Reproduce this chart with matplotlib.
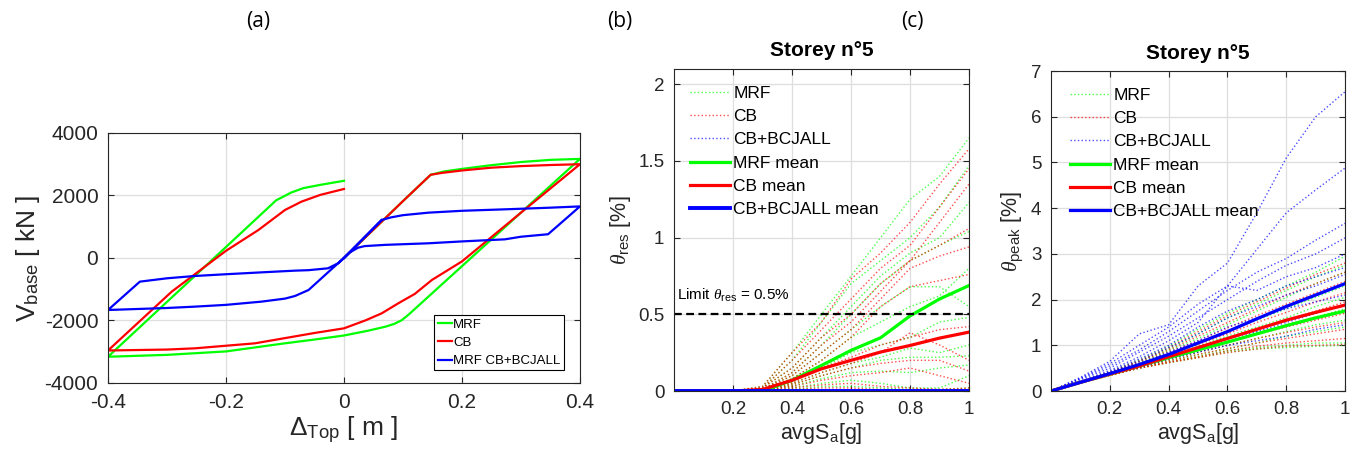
import matplotlib
matplotlib.use("Agg")
import matplotlib.pyplot as plt

# fonts: MATLAB-like sans, serif italic theta
plt.rcParams['font.family'] = ['Liberation Sans', 'DejaVu Sans']
plt.rcParams['mathtext.fontset'] = 'custom'
plt.rcParams['mathtext.rm'] = 'Liberation Sans'
plt.rcParams['mathtext.it'] = 'Liberation Serif:italic'
plt.rcParams['mathtext.bf'] = 'Liberation Sans:bold'

DARK = '#262626'
GRIDC = '#dedede'

# ---------------- (a) pushover cycles ----------------
mrf_x = [0, 0.05, 0.10, 0.147, 0.17, 0.2, 0.25, 0.3, 0.35, 0.4,
         0.3, 0.2, 0.11, 0.098, 0.085, 0.07, 0.04, 0.0, -0.05, -0.1, -0.2, -0.3, -0.4,
         -0.3, -0.2, -0.115, -0.1, -0.09, -0.069, -0.04, 0.0]
mrf_y = [0, 910, 1820, 2663, 2770, 2850, 2970, 3070, 3140, 3170,
         1452, -262, -1805, -1990, -2110, -2200, -2330, -2480, -2610, -2730, -2990, -3100, -3160,
         -1404, 352, 1845, 1990, 2090, 2235, 2340, 2470]

cb_x = [0, 0.05, 0.10, 0.147, 0.165, 0.2, 0.25, 0.3, 0.35, 0.4,
        0.3, 0.2, 0.149, 0.12, 0.092, 0.064, 0.036, 0.0, -0.05, -0.151, -0.253, -0.3, -0.4,
        -0.292, -0.2, -0.145, -0.1, -0.072, -0.04, 0.0]
cb_y = [0, 910, 1820, 2663, 2720, 2800, 2890, 2940, 2975, 3000,
        1450, -110, -704, -1150, -1451, -1771, -2000, -2251, -2400, -2731, -2891, -2930, -2960,
        -1077, 230, 896, 1536, 1803, 2020, 2208]

bcj_x = [0, 0.03, 0.064, 0.08, 0.1, 0.143, 0.2, 0.273, 0.35, 0.4,
         0.346, 0.3, 0.273, 0.2, 0.143, 0.07, 0.035, 0.024, 0.01, 0.0,
         -0.01, -0.027, -0.06, -0.083, -0.14, -0.2, -0.253, -0.3, -0.346, -0.4,
         -0.3, -0.253, -0.2, -0.14, -0.1, -0.083, -0.06, -0.03, 0.0, 0.03, 0.064]
bcj_y = [0, 570, 1216, 1300, 1370, 1450, 1510, 1557, 1610, 1650,
         760, 680, 597, 530, 470, 420, 380, 330, 180, 0,
         -170, -330, -390, -405, -460, -520, -576, -650, -757, -1664,
         -1600, -1557, -1500, -1397, -1300, -1216, -1024, -510, 0, 570, 1216]

# ---------------- (b) residual drift, storey 5 ----------------
sa = [0, 0.1, 0.2, 0.3, 0.4, 0.5, 0.6, 0.7, 0.8, 0.9, 1.0]

res_mrf = [
    [0, 0, 0, 0.03, 0.25, 0.50, 0.75, 1.00, 1.25, 1.40, 1.65],
    [0, 0, 0, 0.02, 0.20, 0.45, 0.70, 0.85, 1.00, 1.20, 1.47],
    [0, 0, 0, 0.02, 0.15, 0.35, 0.55, 0.75, 0.90, 1.00, 1.23],
    [0, 0, 0, 0.01, 0.12, 0.30, 0.50, 0.70, 0.85, 0.95, 1.04],
    [0, 0, 0, 0.01, 0.10, 0.25, 0.40, 0.55, 0.68, 0.68, 0.55],
    [0, 0, 0, 0.01, 0.08, 0.20, 0.35, 0.45, 0.55, 0.62, 0.80],
    [0, 0, 0, 0.00, 0.06, 0.15, 0.25, 0.30, 0.35, 0.45, 0.48],
    [0, 0, 0, 0.00, 0.05, 0.12, 0.18, 0.22, 0.28, 0.25, 0.30],
    [0, 0, 0, 0.00, 0.04, 0.10, 0.15, 0.20, 0.22, 0.22, 0.23],
    [0, 0, 0, 0.00, 0.03, 0.08, 0.12, 0.13, 0.12, 0.15, 0.17],
    [0, 0, 0, 0.00, 0.02, 0.05, 0.07, 0.05, 0.02, 0.02, 0.10],
    [0, 0, 0, 0.00, 0.01, 0.03, 0.03, 0.02, 0.01, 0.01, 0.02],
]
res_cb = [
    [0, 0, 0, 0.03, 0.25, 0.45, 0.73, 0.90, 1.10, 1.35, 1.58],
    [0, 0, 0, 0.02, 0.20, 0.40, 0.60, 0.80, 0.95, 1.20, 1.45],
    [0, 0, 0, 0.02, 0.15, 0.35, 0.50, 0.70, 0.85, 1.10, 1.35],
    [0, 0, 0, 0.01, 0.12, 0.30, 0.45, 0.65, 0.85, 0.95, 1.06],
    [0, 0, 0, 0.01, 0.10, 0.25, 0.40, 0.60, 0.80, 0.88, 0.94],
    [0, 0, 0, 0.01, 0.08, 0.20, 0.35, 0.55, 0.68, 0.72, 0.76],
    [0, 0, 0, 0.00, 0.06, 0.15, 0.22, 0.30, 0.35, 0.40, 0.42],
    [0, 0, 0, 0.00, 0.05, 0.12, 0.18, 0.25, 0.38, 0.30, 0.20],
    [0, 0, 0, 0.00, 0.04, 0.10, 0.15, 0.18, 0.20, 0.20, 0.13],
    [0, 0, 0, 0.00, 0.03, 0.07, 0.10, 0.12, 0.15, 0.10, 0.05],
    [0, 0, 0, 0.00, 0.02, 0.04, 0.05, 0.03, 0.02, 0.01, 0.02],
    [0, 0, 0, 0.00, 0.01, 0.02, 0.02, 0.01, 0.01, 0.01, 0.01],
]
res_bcj = [
    [0, 0, 0, 0, 0, 0, 0, 0, 0, 0, 0],
]
res_mrf_mean = [0, 0, 0, 0.00, 0.07, 0.167, 0.265, 0.347, 0.49, 0.60, 0.688]
res_cb_mean = [0, 0, 0, 0.01, 0.07, 0.145, 0.20, 0.254, 0.297, 0.345, 0.384]
res_bcj_mean = [0, 0, 0, 0, 0, 0, 0, 0, 0, 0, 0]
res_limit = 0.5

# ---------------- (c) peak drift, storey 5 ----------------
peak_mrf = [
    [0, 0.20, 0.42, 0.68, 0.98, 1.35, 1.70, 2.00, 2.30, 2.60, 2.95],
    [0, 0.20, 0.40, 0.65, 0.92, 1.25, 1.60, 1.90, 2.20, 2.50, 2.75],
    [0, 0.20, 0.40, 0.62, 0.88, 1.15, 1.45, 1.75, 2.05, 2.35, 2.60],
    [0, 0.19, 0.38, 0.60, 0.82, 1.05, 1.30, 1.55, 1.80, 2.05, 2.30],
    [0, 0.19, 0.38, 0.57, 0.78, 0.98, 1.20, 1.40, 1.60, 1.85, 2.05],
    [0, 0.19, 0.37, 0.55, 0.74, 0.92, 1.10, 1.28, 1.45, 1.62, 1.80],
    [0, 0.18, 0.36, 0.53, 0.70, 0.85, 1.00, 1.15, 1.30, 1.45, 1.55],
    [0, 0.18, 0.35, 0.52, 0.67, 0.80, 0.92, 1.05, 1.20, 1.30, 1.40],
    [0, 0.18, 0.35, 0.50, 0.64, 0.76, 0.88, 0.95, 1.00, 1.05, 1.05],
    [0, 0.18, 0.34, 0.50, 0.62, 0.73, 0.85, 0.92, 0.95, 0.98, 1.00],
]
peak_cb = [
    [0, 0.20, 0.42, 0.66, 0.95, 1.30, 1.65, 1.95, 2.25, 2.55, 2.80],
    [0, 0.20, 0.40, 0.64, 0.90, 1.20, 1.50, 1.80, 2.10, 2.35, 2.60],
    [0, 0.20, 0.39, 0.60, 0.85, 1.10, 1.38, 1.65, 1.90, 2.15, 2.40],
    [0, 0.19, 0.38, 0.58, 0.80, 1.02, 1.25, 1.50, 1.72, 1.95, 2.15],
    [0, 0.19, 0.37, 0.56, 0.76, 0.96, 1.16, 1.36, 1.55, 1.75, 1.95],
    [0, 0.19, 0.37, 0.55, 0.73, 0.90, 1.07, 1.24, 1.40, 1.55, 1.70],
    [0, 0.18, 0.36, 0.53, 0.70, 0.85, 1.00, 1.15, 1.28, 1.40, 1.50],
    [0, 0.18, 0.35, 0.52, 0.66, 0.80, 0.93, 1.05, 1.15, 1.25, 1.35],
    [0, 0.18, 0.35, 0.50, 0.63, 0.75, 0.88, 0.98, 1.05, 1.10, 1.15],
    [0, 0.18, 0.34, 0.50, 0.62, 0.73, 0.84, 0.92, 0.98, 1.00, 1.02],
]
peak_bcj = [
    [0, 0.30, 0.65, 1.25, 1.45, 2.30, 2.80, 3.90, 5.10, 6.00, 6.55],
    [0, 0.28, 0.60, 1.00, 1.40, 1.90, 2.30, 3.10, 3.90, 4.40, 4.88],
    [0, 0.27, 0.55, 0.90, 1.30, 1.75, 2.20, 2.60, 2.90, 3.30, 3.67],
    [0, 0.25, 0.50, 0.85, 1.20, 1.60, 2.00, 2.40, 2.75, 3.00, 3.35],
    [0, 0.22, 0.45, 0.75, 1.10, 1.50, 2.30, 2.20, 2.50, 2.70, 3.00],
    [0, 0.20, 0.42, 0.70, 1.00, 1.40, 1.75, 2.00, 2.30, 2.50, 2.70],
    [0, 0.20, 0.40, 0.65, 0.95, 1.25, 1.60, 1.85, 2.10, 2.30, 2.55],
    [0, 0.19, 0.38, 0.60, 0.85, 1.10, 1.40, 1.60, 1.80, 1.95, 2.10],
    [0, 0.19, 0.37, 0.55, 0.75, 0.95, 1.15, 1.30, 1.50, 1.70, 1.90],
    [0, 0.18, 0.36, 0.52, 0.70, 0.85, 1.00, 1.10, 1.20, 1.35, 1.45],
]
peak_mrf_mean = [0, 0.19, 0.37, 0.55, 0.73, 0.90, 1.07, 1.25, 1.43, 1.60, 1.75]
peak_cb_mean = [0, 0.19, 0.37, 0.55, 0.75, 0.95, 1.15, 1.35, 1.55, 1.72, 1.88]
peak_bcj_mean = [0, 0.19, 0.38, 0.58, 0.80, 1.05, 1.30, 1.58, 1.85, 2.10, 2.35]

GREEN = (0, 1, 0)
RED = (1, 0, 0)
BLUE = (0, 0, 1)


def style_axes(ax, tick_size):
    ax.grid(True, color=GRIDC, linewidth=0.9)
    ax.set_axisbelow(True)
    ax.tick_params(direction='in', top=True, right=True, length=4,
                   labelsize=tick_size, colors=DARK, pad=7)
    for s in ax.spines.values():
        s.set_color(DARK)
        s.set_linewidth(0.8)


fig = plt.figure(figsize=(13.62, 4.63), dpi=100)

# ---- panel (a)
ax1 = fig.add_axes([0.0793, 0.1728, 0.3465, 0.540])
ax1.plot(mrf_x, mrf_y, color=GREEN, lw=1.6, label='MRF')
ax1.plot(cb_x, cb_y, color=RED, lw=1.6, label='CB')
ax1.plot(bcj_x, bcj_y, color=BLUE, lw=1.6, label='MRF CB+BCJALL')
ax1.set_xlim(-0.4, 0.4)
ax1.set_ylim(-4000, 4000)
ax1.set_xticks([-0.4, -0.2, 0, 0.2, 0.4])
ax1.set_xticklabels(['-0.4', '-0.2', '0', '0.2', '0.4'])
ax1.set_yticks([-4000, -2000, 0, 2000, 4000])
ax1.set_yticklabels(['-4000', '-2000', '0', '2000', '4000'])
style_axes(ax1, 15)
ax1.set_xlabel(r'$\Delta_{\mathrm{Top}}$ [ m ]', fontsize=19, color=DARK, labelpad=2)
ax1.set_ylabel(r'V$_{\mathrm{base}}$ [ kN ]', fontsize=19, color=DARK, labelpad=2)
leg1 = ax1.legend(loc='lower right', bbox_to_anchor=(0.966, 0.05), fontsize=9.5,
                  handlelength=1.1, handletextpad=0.1, borderpad=0.25,
                  labelspacing=0.45, fancybox=False, framealpha=1,
                  borderaxespad=0)
leg1.get_frame().set_edgecolor('black')
leg1.get_frame().set_linewidth(0.8)

# ---- panel (b)
ax2 = fig.add_axes([0.4949, 0.1555, 0.2166, 0.6955])
for i, r in enumerate(res_mrf):
    ax2.plot(sa, r, color=GREEN, lw=1.0, ls=':', alpha=0.7,
             label='MRF' if i == 0 else None)
for i, r in enumerate(res_cb):
    ax2.plot(sa, r, color=RED, lw=1.0, ls=':', alpha=0.7,
             label='CB' if i == 0 else None)
for i, r in enumerate(res_bcj):
    ax2.plot(sa, r, color=BLUE, lw=1.0, ls=':', alpha=0.7,
             label='CB+BCJALL' if i == 0 else None)
ax2.plot(sa, res_mrf_mean, color=GREEN, lw=2.3, label='MRF mean')
ax2.plot(sa, res_cb_mean, color=RED, lw=2.3, label='CB mean')
ax2.plot(sa, res_bcj_mean, color=BLUE, lw=2.8, label='CB+BCJALL mean')
ax2.axhline(res_limit, color='black', lw=1.6, ls=(0, (3.5, 2)))
ax2.text(0.01, res_limit + 0.07, r'Limit $\theta_{\mathrm{res}}$ = 0.5%',
         fontsize=11, color='black', va='bottom', ha='left')
ax2.set_xlim(0, 1)
ax2.set_ylim(0, 2.1)
ax2.set_xticks([0.2, 0.4, 0.6, 0.8, 1.0])
ax2.set_xticklabels(['0.2', '0.4', '0.6', '0.8', '1'])
ax2.set_yticks([0, 0.5, 1, 1.5, 2])
ax2.set_yticklabels(['0', '0.5', '1', '1.5', '2'])
style_axes(ax2, 13.5)
ax2.set_title('Storey n°5', fontsize=15, fontweight='bold', pad=9)
ax2.set_xlabel(r'avgS$_{\mathrm{a}}$[g]', fontsize=15.5, color=DARK, labelpad=2)
ax2.set_ylabel(r'$\theta_{\mathrm{res}}$ [%]', fontsize=15.5, color=DARK, labelpad=4)
ax2.legend(loc='upper left', bbox_to_anchor=(0.03, 0.97), frameon=False,
           fontsize=12.5, handlelength=2.3, handletextpad=0.2,
           labelspacing=0.47, borderaxespad=0)

# ---- panel (c)
ax3 = fig.add_axes([0.7717, 0.1555, 0.2159, 0.691])
for i, r in enumerate(peak_mrf):
    ax3.plot(sa, r, color=GREEN, lw=1.0, ls=':', alpha=0.7,
             label='MRF' if i == 0 else None)
for i, r in enumerate(peak_cb):
    ax3.plot(sa, r, color=RED, lw=1.0, ls=':', alpha=0.7,
             label='CB' if i == 0 else None)
for i, r in enumerate(peak_bcj):
    ax3.plot(sa, r, color=BLUE, lw=1.0, ls=':', alpha=0.7,
             label='CB+BCJALL' if i == 0 else None)
ax3.plot(sa, peak_mrf_mean, color=GREEN, lw=2.3, label='MRF mean')
ax3.plot(sa, peak_cb_mean, color=RED, lw=2.3, label='CB mean')
ax3.plot(sa, peak_bcj_mean, color=BLUE, lw=2.3, label='CB+BCJALL mean')
ax3.set_xlim(0, 1)
ax3.set_ylim(0, 7)
ax3.set_xticks([0.2, 0.4, 0.6, 0.8, 1.0])
ax3.set_xticklabels(['0.2', '0.4', '0.6', '0.8', '1'])
ax3.set_yticks(range(0, 8))
style_axes(ax3, 13.5)
ax3.set_title('Storey n°5', fontsize=15, fontweight='bold', pad=9)
ax3.set_xlabel(r'avgS$_{\mathrm{a}}$[g]', fontsize=15.5, color=DARK, labelpad=2)
ax3.set_ylabel(r'$\theta_{\mathrm{peak}}$ [%]', fontsize=15.5, color=DARK, labelpad=4)
ax3.legend(loc='upper left', bbox_to_anchor=(0.04, 0.97), frameon=False,
           fontsize=12.5, handlelength=2.3, handletextpad=0.2,
           labelspacing=0.47, borderaxespad=0)

# panel letters
for xl, lab in [(258, '(a)'), (620, '(b)'), (912, '(c)')]:
    fig.text(xl / 1362, 1 - 22 / 463, lab, ha='center', va='center',
             fontsize=15, family='Open Sans', color='black')

fig.savefig('out.png', dpi=100)
